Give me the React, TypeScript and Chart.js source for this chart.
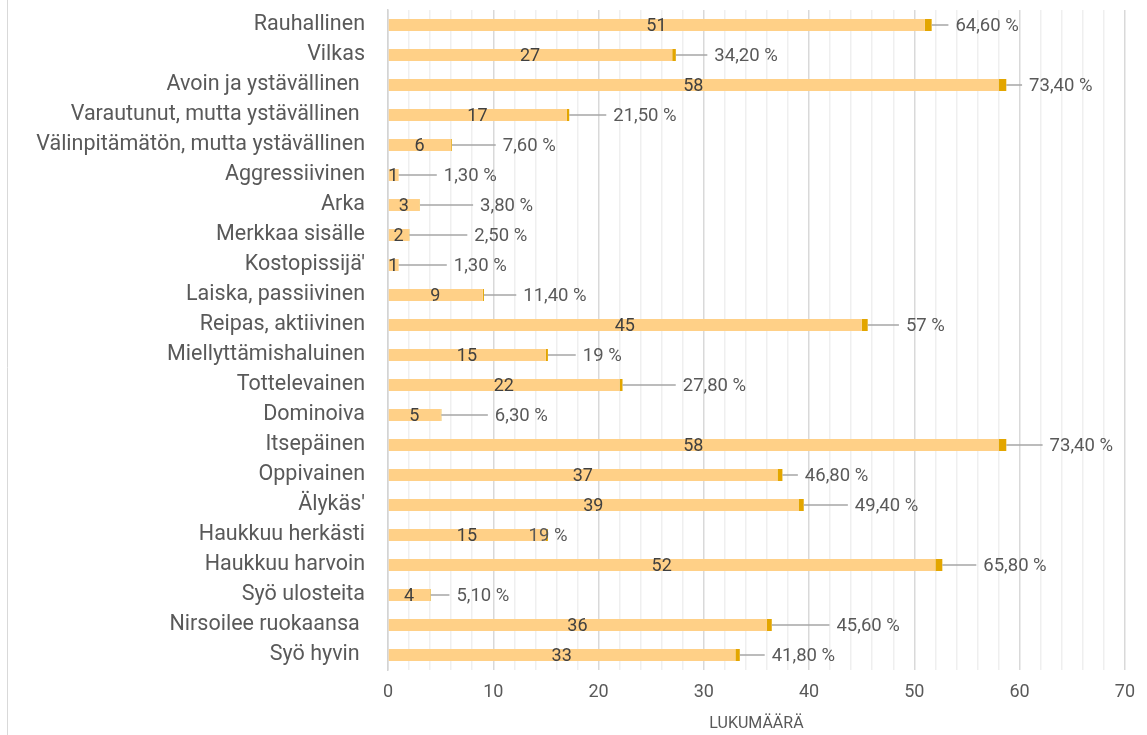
import React, { useEffect, useRef } from 'react';
import { Chart, registerables } from 'chart.js';

Chart.register(...registerables);

const categories = [
  'Rauhallinen',
  'Vilkas',
  'Avoin ja ystävällinen ',
  'Varautunut, mutta ystävällinen ',
  'Välinpitämätön, mutta ystävällinen',
  'Aggressiivinen',
  'Arka',
  'Merkkaa sisälle',
  "Kostopissijä'",
  'Laiska, passiivinen',
  'Reipas, aktiivinen',
  'Miellyttämishaluinen',
  'Tottelevainen',
  'Dominoiva',
  'Itsepäinen',
  'Oppivainen',
  "Älykäs'",
  'Haukkuu herkästi',
  'Haukkuu harvoin',
  'Syö ulosteita',
  'Nirsoilee ruokaansa ',
  'Syö hyvin ',
];

const counts = [51, 27, 58, 17, 6, 1, 3, 2, 1, 9, 45, 15, 22, 5, 58, 37, 39, 15, 52, 4, 36, 33];

const shares = [
  0.646, 0.342, 0.734, 0.215, 0.076, 0.013, 0.038, 0.025, 0.013, 0.114, 0.57, 0.19, 0.278, 0.063,
  0.734, 0.468, 0.494, 0.19, 0.658, 0.051, 0.456, 0.418,
];

const shareLabels = [
  '64,60 %', '34,20 %', '73,40 %', '21,50 %', '7,60 %', '1,30 %', '3,80 %', '2,50 %', '1,30 %',
  '11,40 %', '57 %', '19 %', '27,80 %', '6,30 %', '73,40 %', '46,80 %', '49,40 %', '19 %',
  '65,80 %', '5,10 %', '45,60 %', '41,80 %',
];

// x-axis value where each share label (dragged in the original) begins
const shareLabelAt = [
  53.9, 31.0, 60.9, 21.4, 10.9, 5.3, 8.75, 8.2, 6.25, 12.85, 49.2, 18.5, 28.0, 10.15, 62.85, 39.6,
  44.35, 13.35, 56.55, 6.5, 42.6, 36.45,
];

const xMin = 0;
const xMax = 70;
const xMinorStep = 2;
const xMajorStep = 10;
const xTitle = 'LUKUMÄÄRÄ';

const FONT = 'Roboto, "Open Sans", sans-serif';

const labelPlugin = {
  id: 'customLabels',
  afterDatasetsDraw(chart: any) {
    const { ctx, scales } = chart;
    const x = scales.x;
    const y = scales.y;
    ctx.save();
    ctx.textBaseline = 'middle';
    counts.forEach((c, i) => {
      const yc = y.getPixelForValue(i);
      ctx.font = `18px ${FONT}`;
      ctx.fillStyle = '#404040';
      ctx.textAlign = 'center';
      ctx.fillText(String(c), x.getPixelForValue(c / 2), yc + 1);

      const endPx = x.getPixelForValue(c + shares[i]);
      const lx = x.getPixelForValue(shareLabelAt[i]);
      if (lx - 7 > endPx + 2) {
        ctx.strokeStyle = '#a6a6a6';
        ctx.lineWidth = 1.5;
        ctx.beginPath();
        ctx.moveTo(endPx, yc);
        ctx.lineTo(lx - 7, yc);
        ctx.stroke();
      }
      ctx.font = `18.5px ${FONT}`;
      ctx.fillStyle = '#595959';
      ctx.textAlign = 'left';
      ctx.fillText(shareLabels[i], lx, yc + 1);
    });
    ctx.restore();
  },
  afterDraw(chart: any) {
    const { ctx } = chart;
    ctx.save();
    ctx.strokeStyle = '#d9d9d9';
    ctx.lineWidth = 1;
    ctx.beginPath();
    ctx.moveTo(7.5, 0);
    ctx.lineTo(7.5, chart.height);
    ctx.stroke();
    ctx.restore();
  },
};

export default function App() {
  const canvasRef = useRef<HTMLCanvasElement | null>(null);

  useEffect(() => {
    if (!canvasRef.current) return;
    const chart = new Chart(canvasRef.current, {
      type: 'bar',
      data: {
        labels: categories,
        datasets: [
          {
            label: 'Lukumäärä',
            data: counts,
            backgroundColor: '#FFD087',
            barPercentage: 0.4,
            categoryPercentage: 1,
          },
          {
            label: 'Osuus',
            data: shares,
            backgroundColor: '#E3A600',
            barPercentage: 0.4,
            categoryPercentage: 1,
          },
        ],
      },
      options: {
        indexAxis: 'y',
        animation: false,
        responsive: false,
        maintainAspectRatio: false,
        layout: { padding: { top: 10, right: 17, left: 0, bottom: 0 } },
        plugins: {
          legend: { display: false },
          tooltip: { enabled: false },
        },
        scales: {
          x: {
            stacked: true,
            min: xMin,
            max: xMax,
            ticks: {
              stepSize: xMinorStep,
              autoSkip: false,
              maxRotation: 0,
              padding: 12,
              color: '#595959',
              font: { family: FONT, size: 18 },
              callback: (v: any) => (Number(v) % xMajorStep === 0 ? String(v) : ''),
            },
            grid: {
              drawTicks: false,
              lineWidth: 1.5,
              color: (ctx: any) =>
                ctx.tick && ctx.tick.value % xMajorStep === 0 ? '#d9d9d9' : '#efefef',
            },
            border: { display: false },
            title: {
              display: true,
              text: xTitle,
              color: '#595959',
              font: { family: FONT, size: 16 },
              padding: { top: 0, bottom: 1 },
            },
            afterFit: (scale: any) => {
              scale.height = 65;
            },
          },
          y: {
            stacked: true,
            ticks: {
              padding: 23,
              color: '#595959',
              autoSkip: false,
              font: { family: FONT, size: 21.5 },
            },
            grid: { display: false, drawTicks: false },
            border: { display: true, color: '#d4d4d4', width: 1.5 },
            afterFit: (scale: any) => {
              scale.width = 388;
              scale.paddingTop = 0;
              scale.paddingBottom = 0;
            },
          },
        },
      },
      plugins: [labelPlugin],
    });
    return () => chart.destroy();
  }, []);

  return (
    <div style={{ position: 'absolute', left: 0, top: 0, width: 1147, height: 735, background: '#fff' }}>
      <canvas ref={canvasRef} width={1147} height={735} style={{ display: 'block' }} />
    </div>
  );
}
